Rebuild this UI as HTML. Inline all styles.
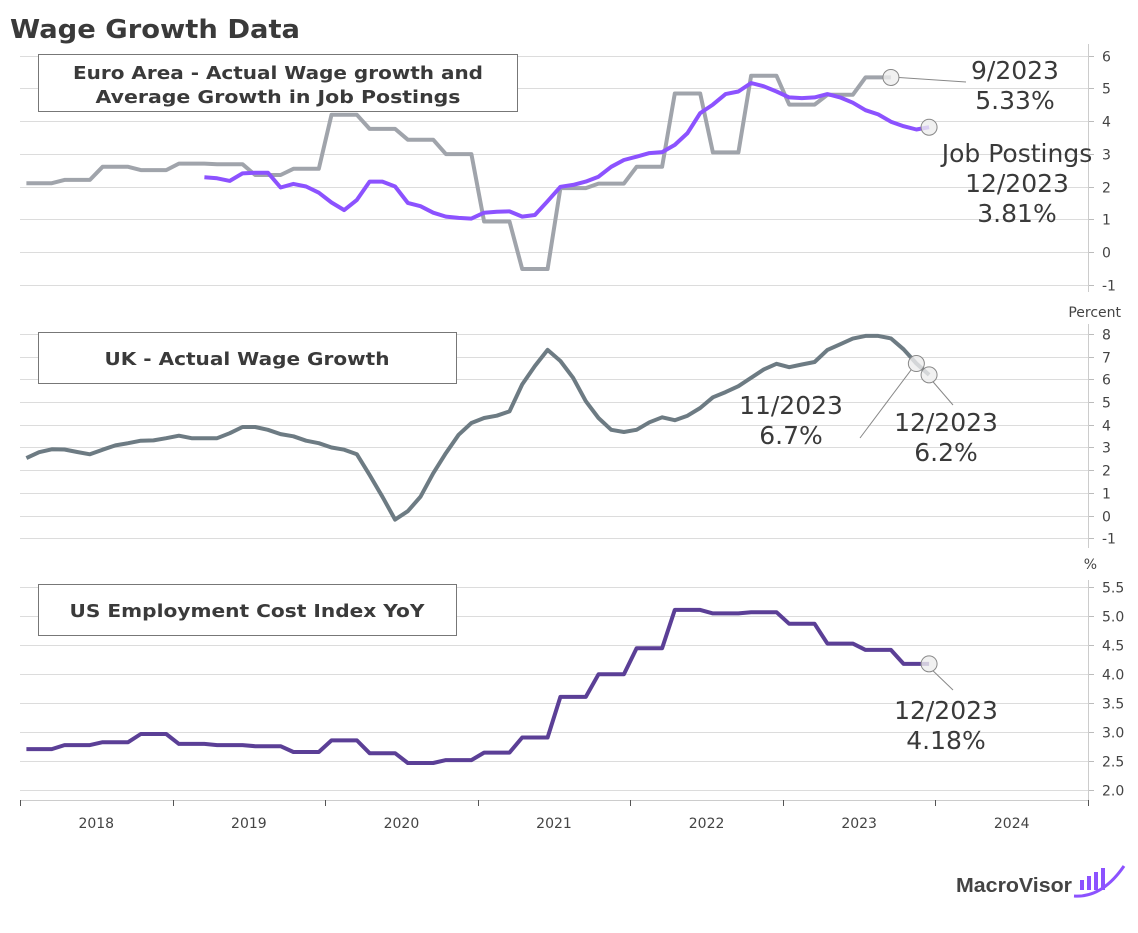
<!DOCTYPE html>
<html><head><meta charset="utf-8"><style>
html,body{margin:0;padding:0;background:#fff;}
svg{display:block;font-family:"DejaVu Sans","Liberation Sans",sans-serif;}
</style></head><body>
<svg id="c" width="1138" height="933" viewBox="0 0 1138 933" xmlns="http://www.w3.org/2000/svg">
<text x="10" y="38" font-size="26" font-weight="bold" fill="#3a3a3a" textLength="290" lengthAdjust="spacingAndGlyphs">Wage Growth Data</text>
<g id="grid"></g>
<g id="series"></g>
<g id="boxes">
<rect x="38.5" y="54.5" width="479" height="57" fill="#fff" stroke="#777"/>
<text x="278" y="79" font-size="18" font-weight="bold" fill="#3a3a3a" text-anchor="middle"><tspan x="278" textLength="410" lengthAdjust="spacingAndGlyphs">Euro Area - Actual Wage growth and</tspan><tspan x="278" dy="24" textLength="365" lengthAdjust="spacingAndGlyphs">Average Growth in Job Postings</tspan></text>
<rect x="38.5" y="332.5" width="418" height="51" fill="#fff" stroke="#777"/>
<text x="247" y="365" font-size="18" font-weight="bold" fill="#3a3a3a" text-anchor="middle" textLength="285" lengthAdjust="spacingAndGlyphs">UK - Actual Wage Growth</text>
<rect x="38.5" y="584.5" width="418" height="51" fill="#fff" stroke="#777"/>
<text x="247" y="617" font-size="18" font-weight="bold" fill="#3a3a3a" text-anchor="middle" textLength="355" lengthAdjust="spacingAndGlyphs">US Employment Cost Index YoY</text>
</g>
<g id="ann"></g>
<g>
<text x="956" y="892" font-size="20" font-weight="bold" fill="#444" textLength="116" lengthAdjust="spacingAndGlyphs" font-family="Liberation Sans, sans-serif">MacroVisor</text>
<rect x="1080" y="880" width="4" height="10" fill="#8c52ff"/><rect x="1087" y="876" width="4" height="14" fill="#8c52ff"/><rect x="1094" y="872" width="4" height="18" fill="#8c52ff"/><rect x="1101" y="868" width="4" height="22" fill="#8c52ff"/>
<path d="M1074 896 Q1102 898 1124 866" stroke="#8c52ff" stroke-width="3" fill="none"/>
</g>
</svg>
<script>
const years = ["2018","2019","2020","2021","2022","2023","2024"];
const euroWageQ = [2.1,2.2,2.6,2.5,2.7,2.68,2.35,2.54,4.19,3.76,3.43,2.99,0.93,-0.52,1.95,2.09,2.6,4.84,3.04,5.38,4.5,4.8,5.33];
const jobPostStart = 14;
const jobPostings = [2.28,2.25,2.17,2.4,2.42,2.42,1.97,2.08,2.0,1.81,1.51,1.28,1.59,2.15,2.15,2.0,1.5,1.4,1.2,1.08,1.04,1.02,1.2,1.23,1.24,1.08,1.13,1.55,1.99,2.05,2.15,2.3,2.6,2.81,2.91,3.02,3.05,3.27,3.63,4.24,4.5,4.82,4.9,5.16,5.06,4.9,4.72,4.7,4.72,4.82,4.72,4.56,4.33,4.2,3.98,3.84,3.74,3.81];
const ukWage = [2.53,2.79,2.92,2.91,2.8,2.7,2.9,3.09,3.19,3.3,3.31,3.41,3.52,3.41,3.41,3.41,3.63,3.9,3.9,3.78,3.59,3.49,3.3,3.19,3.0,2.9,2.7,1.79,0.83,-0.18,0.19,0.83,1.86,2.75,3.56,4.08,4.3,4.4,4.59,5.78,6.59,7.3,6.81,6.07,5.04,4.3,3.78,3.68,3.78,4.11,4.33,4.2,4.4,4.74,5.21,5.44,5.7,6.07,6.44,6.69,6.54,6.66,6.77,7.3,7.55,7.8,7.92,7.92,7.81,7.33,6.7,6.2];
const usEciQ = [2.71,2.78,2.83,2.97,2.80,2.78,2.76,2.66,2.86,2.64,2.47,2.52,2.65,2.91,3.61,4.0,4.45,5.11,5.05,5.07,4.87,4.53,4.42,4.18];
const euroTicks = [6,5,4,3,2,1,0,-1];
const ukTicks = [8,7,6,5,4,3,2,1,0,-1];
const usTicks = ["5.5","5.0","4.5","4.0","3.5","3.0","2.5","2.0"];

const NS="http://www.w3.org/2000/svg";
const X0=20, MW=(1088-20)/84;
const xm = i => X0 + (i+0.5)*MW;
const y1 = v => 252 - v*32.75;
const y2 = v => 515.5 - v*22.68;
const y3 = v => 790.3 - (v-2)*58;
function el(tag, attrs, parent){const e=document.createElementNS(NS,tag);for(const k in attrs)e.setAttribute(k,attrs[k]);parent.appendChild(e);return e;}
const grid=document.getElementById('grid'), ser=document.getElementById('series'), ann=document.getElementById('ann');
function axis(ticks, yf, top, bot, name){
  ticks.forEach(t=>{
    const y=Math.round(yf(+t))+0.5;
    const g=el('line',{x1:20,x2:1088,y1:y,y2:y,stroke:'#dcdcdc','stroke-width':1},grid);
    
    
    el('line',{x1:1088,x2:1094,y1:y,y2:y,stroke:'#bbb'},grid);
    const tx=el('text',{x:1102,y:y+5,'font-size':14,fill:'#444'},grid);
    tx.textContent=(+t<0?'-'+Math.abs(+t):t);
    
    
  });
  const a=el('line',{x1:1088.5,x2:1088.5,y1:top,y2:bot,stroke:'#ccc'},grid);
  
  
}
axis(euroTicks,y1,44,292,'euro');
axis(ukTicks,y2,324,548,'uk');
axis(usTicks,y3,580,800,'us');
let t=el('text',{x:1121,y:317,'font-size':14,fill:'#444','text-anchor':'end'},grid);t.textContent='Percent';


t=el('text',{x:1097,y:569,'font-size':14,fill:'#444','text-anchor':'end'},grid);t.textContent='%';


el('line',{x1:20,x2:1088,y1:800.5,y2:800.5,stroke:'#ccc'},grid);
for(let k=0;k<=7;k++){const x=Math.round(X0+k*12*MW)+0.5;el('line',{x1:x,x2:x,y1:800,y2:806,stroke:'#555'},grid);}
years.forEach((yr,k)=>{const tx=el('text',{x:X0+(k+0.5)*12*MW,y:828,'font-size':14,fill:'#444','text-anchor':'middle'},grid);tx.textContent=yr;

});

function quarterToMonthly(q){const m=[];q.forEach(v=>{m.push(v,v,v);});return m;}
function line(vals, start, yf, color, name){
  const d=vals.map((v,i)=>(i?'L':'M')+xm(i+start).toFixed(1)+' '+yf(v).toFixed(1)).join(' ');
  const p=el('path',{d:d,fill:'none',stroke:color,'stroke-width':4,'stroke-linejoin':'round'},ser);
  
  
}
const euroM=quarterToMonthly(euroWageQ);
line(euroM,0,y1,'#a0a4ab','euro-wage-line');
line(jobPostings,jobPostStart,y1,'#8c52ff','euro-job-postings-line');
line(ukWage,0,y2,'#6d7b83','uk-wage-line');
line(quarterToMonthly(usEciQ),0,y3,'#5b3f96','us-eci-line');

function marker(i,v,yf,name){const c=el('circle',{cx:xm(i),cy:yf(v),r:8,fill:'rgba(238,238,238,0.8)',stroke:'#888','stroke-width':1},ann);

return c;}
function lbl(x,y,lines,name){const tx=el('text',{x:x,y:y,'font-size':25,fill:'#3a3a3a','text-anchor':'middle'},ann);


lines.forEach((s,k)=>{const ts=el('tspan',{x:x,dy:k?30:0},tx);ts.textContent=s;});}
const le=euroM.length-1;
el('line',{x1:xm(le)+8,y1:y1(euroM[le]),x2:966,y2:82,stroke:'#888'},ann);
marker(le,euroM[le],y1,'euro-wage-last-marker');
lbl(1015,79,['9/2023','5.33%'],'euro-wage-annotation');
const je=jobPostStart+jobPostings.length-1;
marker(je,jobPostings[jobPostings.length-1],y1,'job-postings-last-marker');
lbl(1017,162,['Job Postings','12/2023','3.81%'],'job-postings-annotation');
const ue=ukWage.length-1;
el('line',{x1:xm(ue-1)-5,y1:y2(ukWage[ue-1])+6,x2:860,y2:438,stroke:'#888'},ann);
el('line',{x1:xm(ue)+4,y1:y2(ukWage[ue])+7,x2:953,y2:405,stroke:'#888'},ann);
marker(ue-1,ukWage[ue-1],y2,'uk-nov-marker');
marker(ue,ukWage[ue],y2,'uk-dec-marker');
lbl(791,414,['11/2023','6.7%'],'uk-nov-annotation');
lbl(946,431,['12/2023','6.2%'],'uk-dec-annotation');
const usM=quarterToMonthly(usEciQ), se=usM.length-1;
el('line',{x1:xm(se)+4,y1:y3(usM[se])+7,x2:953,y2:690,stroke:'#888'},ann);
marker(se,usM[se],y3,'us-last-marker');
lbl(946,719,['12/2023','4.18%'],'us-annotation');
</script>
</body></html>
